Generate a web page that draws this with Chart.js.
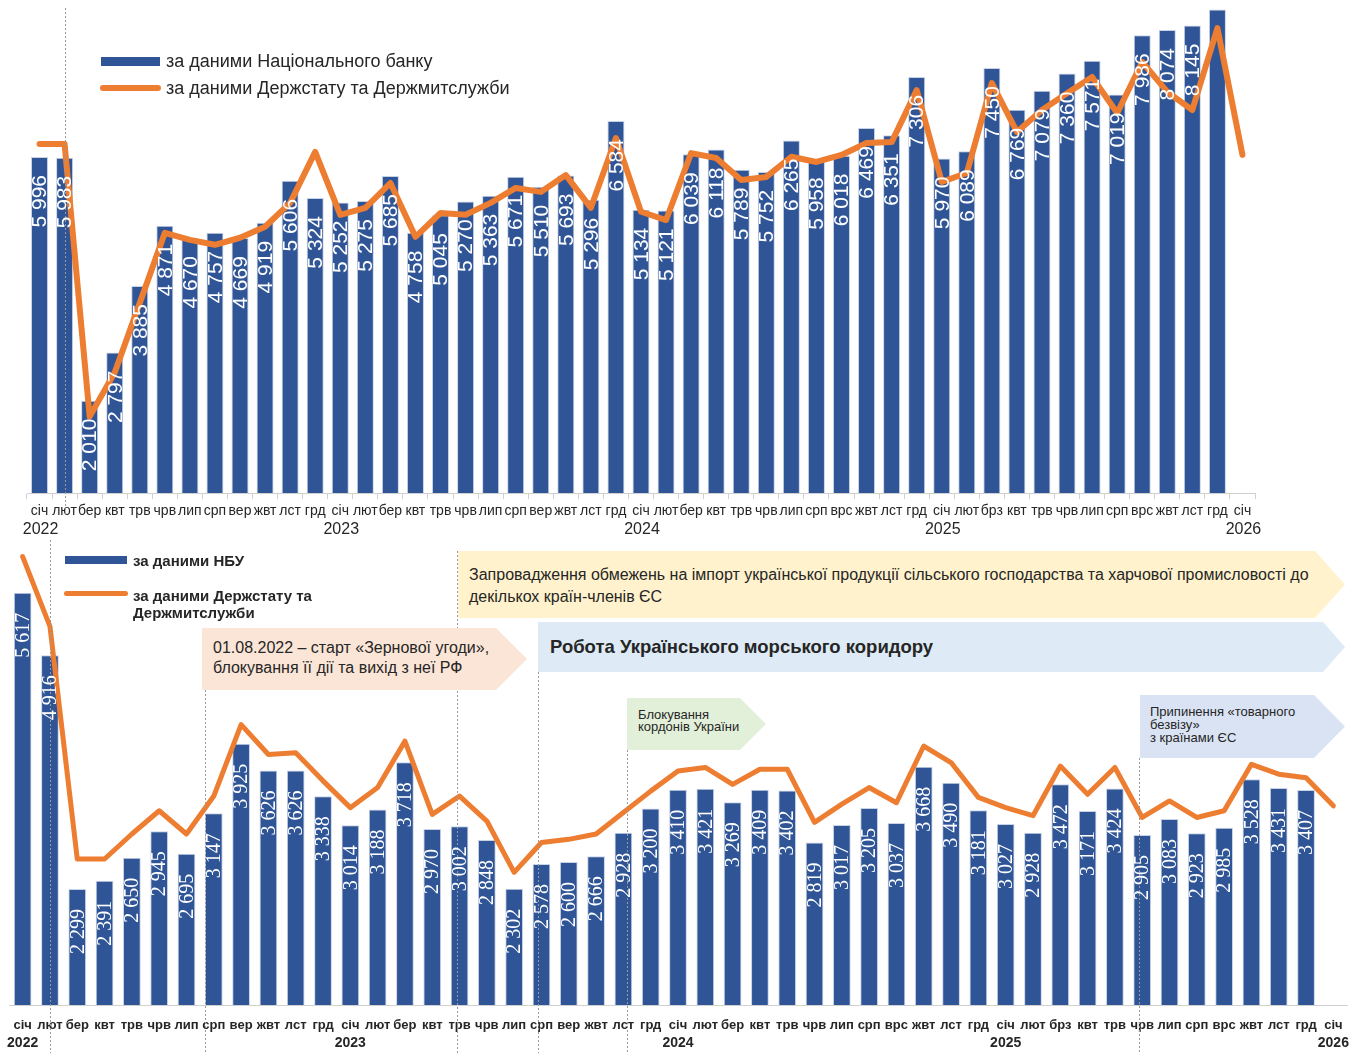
<!DOCTYPE html>
<html><head><meta charset="utf-8">
<script src="https://cdn.jsdelivr.net/npm/chart.js@4/dist/chart.umd.min.js"></script>
<style>
html,body{margin:0;padding:0;background:#fff;}
body{width:1366px;height:1053px;position:relative;overflow:hidden;font-family:"Liberation Sans",Arial,sans-serif;color:#262626;}
#topWrap{position:absolute;left:0;top:0;width:1366px;height:540px;}
#botWrap{position:absolute;left:0;top:540px;width:1366px;height:513px;}
.abs{position:absolute;white-space:nowrap;}
.sw{position:absolute;}
.arrow{position:absolute;box-sizing:border-box;white-space:nowrap;}
</style>
</head><body>
<div id="topWrap"><canvas id="topChart"></canvas></div>
<div id="botWrap"><canvas id="botChart"></canvas></div>

<!-- top legend -->
<div class="sw" style="left:101px;top:57px;width:59px;height:9px;background:#2F5597;"></div>
<div class="abs" style="left:166px;top:51px;font-size:18px;line-height:20px;">за даними Національного банку</div>
<div class="sw" style="left:100px;top:85px;width:61px;height:6px;border-radius:3px;background:#ED7D31;"></div>
<div class="abs" style="left:166px;top:78px;font-size:18px;line-height:20px;">за даними Держстату та Держмитслужби</div>

<!-- bottom legend -->
<div class="sw" style="left:65px;top:556px;width:62px;height:8px;background:#2F5597;"></div>
<div class="abs" style="left:133px;top:552px;font-size:15px;line-height:17px;font-weight:bold;">за даними НБУ</div>
<div class="sw" style="left:64px;top:591px;width:64px;height:5px;border-radius:3px;background:#ED7D31;"></div>
<div class="abs" style="left:133px;top:587px;font-size:15px;line-height:17px;font-weight:bold;">за даними Держстату та<br>Держмитслужби</div>

<!-- annotation arrows -->
<div class="arrow" style="left:458px;top:551px;width:887px;height:67px;background:#FFF2CC;clip-path:polygon(0 0,calc(100% - 30px) 0,100% 50%,calc(100% - 30px) 100%,0 100%);padding:13px 0 0 11px;font-size:16px;line-height:22px;">Запровадження обмежень на імпорт української продукції сільського господарства та харчової промисловості до<br>декількох країн-членів ЄС</div>
<div class="arrow" style="left:538px;top:622px;width:807px;height:50px;background:#DEEBF7;clip-path:polygon(0 0,calc(100% - 22px) 0,100% 50%,calc(100% - 22px) 100%,0 100%);padding:15px 0 0 12px;font-size:18.5px;line-height:20px;font-weight:bold;">Робота Українського морського коридору</div>
<div class="arrow" style="left:202px;top:628px;width:325px;height:62px;background:#FBE5D6;clip-path:polygon(0 0,calc(100% - 31px) 0,100% 50%,calc(100% - 31px) 100%,0 100%);padding:10px 0 0 11px;font-size:16px;line-height:20px;">01.08.2022 – старт «Зернової угоди»,<br>блокування її дії та вихід з неї РФ</div>
<div class="arrow" style="left:627px;top:698px;width:139px;height:52px;background:#E2F0D9;clip-path:polygon(0 0,calc(100% - 26px) 0,100% 50%,calc(100% - 26px) 100%,0 100%);padding:11px 0 0 11px;font-size:13px;line-height:12px;">Блокування<br>кордонів України</div>
<div class="arrow" style="left:1140px;top:695px;width:205px;height:63px;background:#DAE3F3;clip-path:polygon(0 0,calc(100% - 31px) 0,100% 50%,calc(100% - 31px) 100%,0 100%);padding:10px 0 0 10px;font-size:13px;line-height:13px;">Припинення «товарного<br>безвізу»<br>з країнами ЄС</div>

<script>
// ---------- DATA ----------
const monthLabels = [
  'січ','лют','бер','квт','трв','чрв','лип','срп','вер','жвт','лст','грд',
  'січ','лют','бер','квт','трв','чрв','лип','срп','вер','жвт','лст','грд',
  'січ','лют','бер','квт','трв','чрв','лип','срп','врс','жвт','лст','грд',
  'січ','лют','брз','квт','трв','чрв','лип','срп','врс','жвт','лст','грд',
  'січ'
];
const yearLabels = ['2022','2023','2024','2025','2026'];
const yearIndex = [0, 12, 24, 36, 48];

// top panel
const nbuTop = [
  5996,5983,2010,2797,3885,4871,4670,4757,4669,4919,5606,5324,
  5252,5275,5685,4758,5045,5270,5363,5671,5510,5693,5296,6584,
  5134,5121,6039,6118,5789,5752,6265,5958,6018,6469,6351,7306,
  5970,6089,7450,6769,7079,7360,7571,7019,7986,8074,8145,8410
];
const statTop = [
  6208,6208,1750,2470,3610,4755,4640,4560,4675,4855,5245,6080,
  5050,5165,5570,4690,5080,5050,5245,5490,5425,5700,5165,6305,
  5100,4965,6060,5980,5620,5670,6000,5915,6030,6225,6240,7090,
  5590,5735,7205,6405,6765,7040,7305,6715,7550,7060,6765,8105,
  6030
];
// bottom panel
const nbuBot = [
  5617,4916,2299,2391,2650,2945,2695,3147,3925,3626,3626,3338,
  3014,3188,3718,2970,3002,2848,2302,2578,2600,2666,2928,3200,
  3410,3421,3269,3409,3402,2819,3017,3205,3037,3668,3490,3181,
  3027,2928,3472,3171,3424,2905,3083,2923,2985,3528,3431,3407
];
const statBot = [
  6020,5240,2635,2635,2915,3175,2915,3340,4140,3805,3825,3510,
  3210,3435,3955,3135,3340,3060,2485,2820,2855,2915,3155,3395,
  3620,3660,3470,3640,3640,3045,3250,3435,3265,3900,3715,3325,
  3210,3120,3675,3360,3660,3100,3285,3100,3175,3695,3585,3545,
  3230
];
const topLabelSkip = [47];

// ---------- HELPERS ----------
const fmt = v => String(v).replace(/\B(?=(\d{3})+(?!\d))/g, ' ');
const BLUE = '#2F5597', ORANGE = '#ED7D31';

const barLabels = {
  id: 'barLabels',
  afterDatasetsDraw(chart, args, o) {
    const meta = chart.getDatasetMeta(0);
    const data = chart.data.datasets[0].data;
    const ctx = chart.ctx;
    ctx.save();
    ctx.fillStyle = '#ffffff';
    ctx.font = o.font;
    ctx.textAlign = 'right';
    ctx.textBaseline = 'middle';
    meta.data.forEach((bar, i) => {
      if ((o.skip || []).includes(i)) return;
      ctx.save();
      ctx.translate(bar.x + (o.dx || 0), bar.y + o.offset);
      ctx.rotate(-Math.PI / 2);
      ctx.fillText(fmt(data[i]), 0, 0);
      ctx.restore();
    });
    ctx.restore();
  }
};

const vLines = {
  id: 'vLines',
  afterDatasetsDraw(chart, args, o) {
    const x = chart.scales.x, ctx = chart.ctx;
    const step = x.getPixelForValue(1) - x.getPixelForValue(0);
    ctx.save();
    ctx.strokeStyle = o.color;
    ctx.lineWidth = 1;
    ctx.setLineDash([2, 2]);
    (o.lines || []).forEach(l => {
      const px = Math.round(x.getPixelForValue(0) + l.at * step) + 0.5;
      ctx.beginPath();
      ctx.moveTo(px, l.y0);
      ctx.lineTo(px, l.y1);
      ctx.stroke();
    });
    ctx.restore();
  }
};

const yearTicks = {
  id: 'yearTicks',
  afterDraw(chart, args, o) {
    const x = chart.scales.x, ctx = chart.ctx;
    ctx.save();
    ctx.fillStyle = o.color;
    ctx.font = o.font;
    ctx.textAlign = 'center';
    ctx.textBaseline = 'middle';
    yearIndex.forEach((idx, k) => {
      ctx.fillText(yearLabels[k], x.getPixelForValue(idx) + (o.dx || 0), chart.chartArea.bottom + o.offset);
    });
    ctx.restore();
  }
};

function makeChart(id, cfg) {
  return new Chart(document.getElementById(id), {
    data: {
      labels: monthLabels,
      datasets: [
        { type: 'bar', data: cfg.bars, backgroundColor: BLUE, borderColor: '#c9d3e6', borderWidth: 1,
          categoryPercentage: 1, barPercentage: cfg.barPct, order: 2 },
        { type: 'line', data: cfg.line, borderColor: ORANGE, borderWidth: cfg.lineW, pointRadius: 0,
          tension: 0, borderJoinStyle: 'round', borderCapStyle: 'round', order: 1 }
      ]
    },
    options: {
      responsive: true, maintainAspectRatio: false, animation: false, events: [],
      layout: { padding: { left: cfg.padL, right: cfg.padR, top: 0, bottom: 0 } },
      plugins: {
        legend: { display: false }, tooltip: { enabled: false },
        barLabels: cfg.labelOpts,
        vLines: cfg.vLines,
        yearTicks: cfg.yearOpts
      },
      scales: {
        x: {
          offset: true,
          grid: cfg.grid,
          border: { display: true, color: '#d0d0d0' },
          ticks: { autoSkip: false, maxRotation: 0, minRotation: 0, padding: cfg.tickPad, color: '#262626', font: cfg.tickFont },
          afterFit(s) { s.height = cfg.axisH; }
        },
        y: { display: false, min: cfg.yMin, max: cfg.yMax }
      }
    },
    plugins: [vLines, barLabels, yearTicks]
  });
}

makeChart('topChart', {
  bars: nbuTop, line: statTop, barPct: 0.68, lineW: 6,
  padL: 27, padR: 111, axisH: 47, yMin: 500, yMax: 8564,
  grid: { display: true, drawOnChartArea: false, drawTicks: true, tickLength: 6, color: '#d0d0d0', offset: true },
  tickPad: 4, tickFont: { family: 'Liberation Sans', size: 14 },
  labelOpts: { font: '21px "Liberation Sans"', offset: 18, skip: topLabelSkip, dx: 1 },
  vLines: { color: '#9a9a9a', lines: [{ at: 1, y0: 8, y1: 515 }] },
  yearOpts: { font: '16px "Liberation Sans"', color: '#262626', offset: 37, dx: 1 }
});

makeChart('botChart', {
  bars: nbuBot, line: statBot, barPct: 0.65, lineW: 5,
  padL: 9, padR: 19, axisH: 48, yMin: 1000, yMax: 6207,
  grid: { display: false, drawTicks: false },
  tickPad: 13, tickFont: { family: 'Liberation Sans', size: 13, weight: 'bold' },
  labelOpts: { font: '20px "Liberation Serif"', offset: 20, skip: [], dx: 1 },
  vLines: { color: '#9a9a9a', lines: [
    { at: 1.0, y0: 0, y1: 513 },
    { at: 6.69, y0: 150, y1: 513 },
    { at: 15.9, y0: 11, y1: 513 },
    { at: 18.86, y0: 132, y1: 513 },
    { at: 22.12, y0: 210, y1: 513 },
    { at: 40.9, y0: 218, y1: 513 }
  ] },
  yearOpts: { font: 'bold 14px "Liberation Sans"', color: '#262626', offset: 38, dx: 0 }
});
</script>
</body></html>
